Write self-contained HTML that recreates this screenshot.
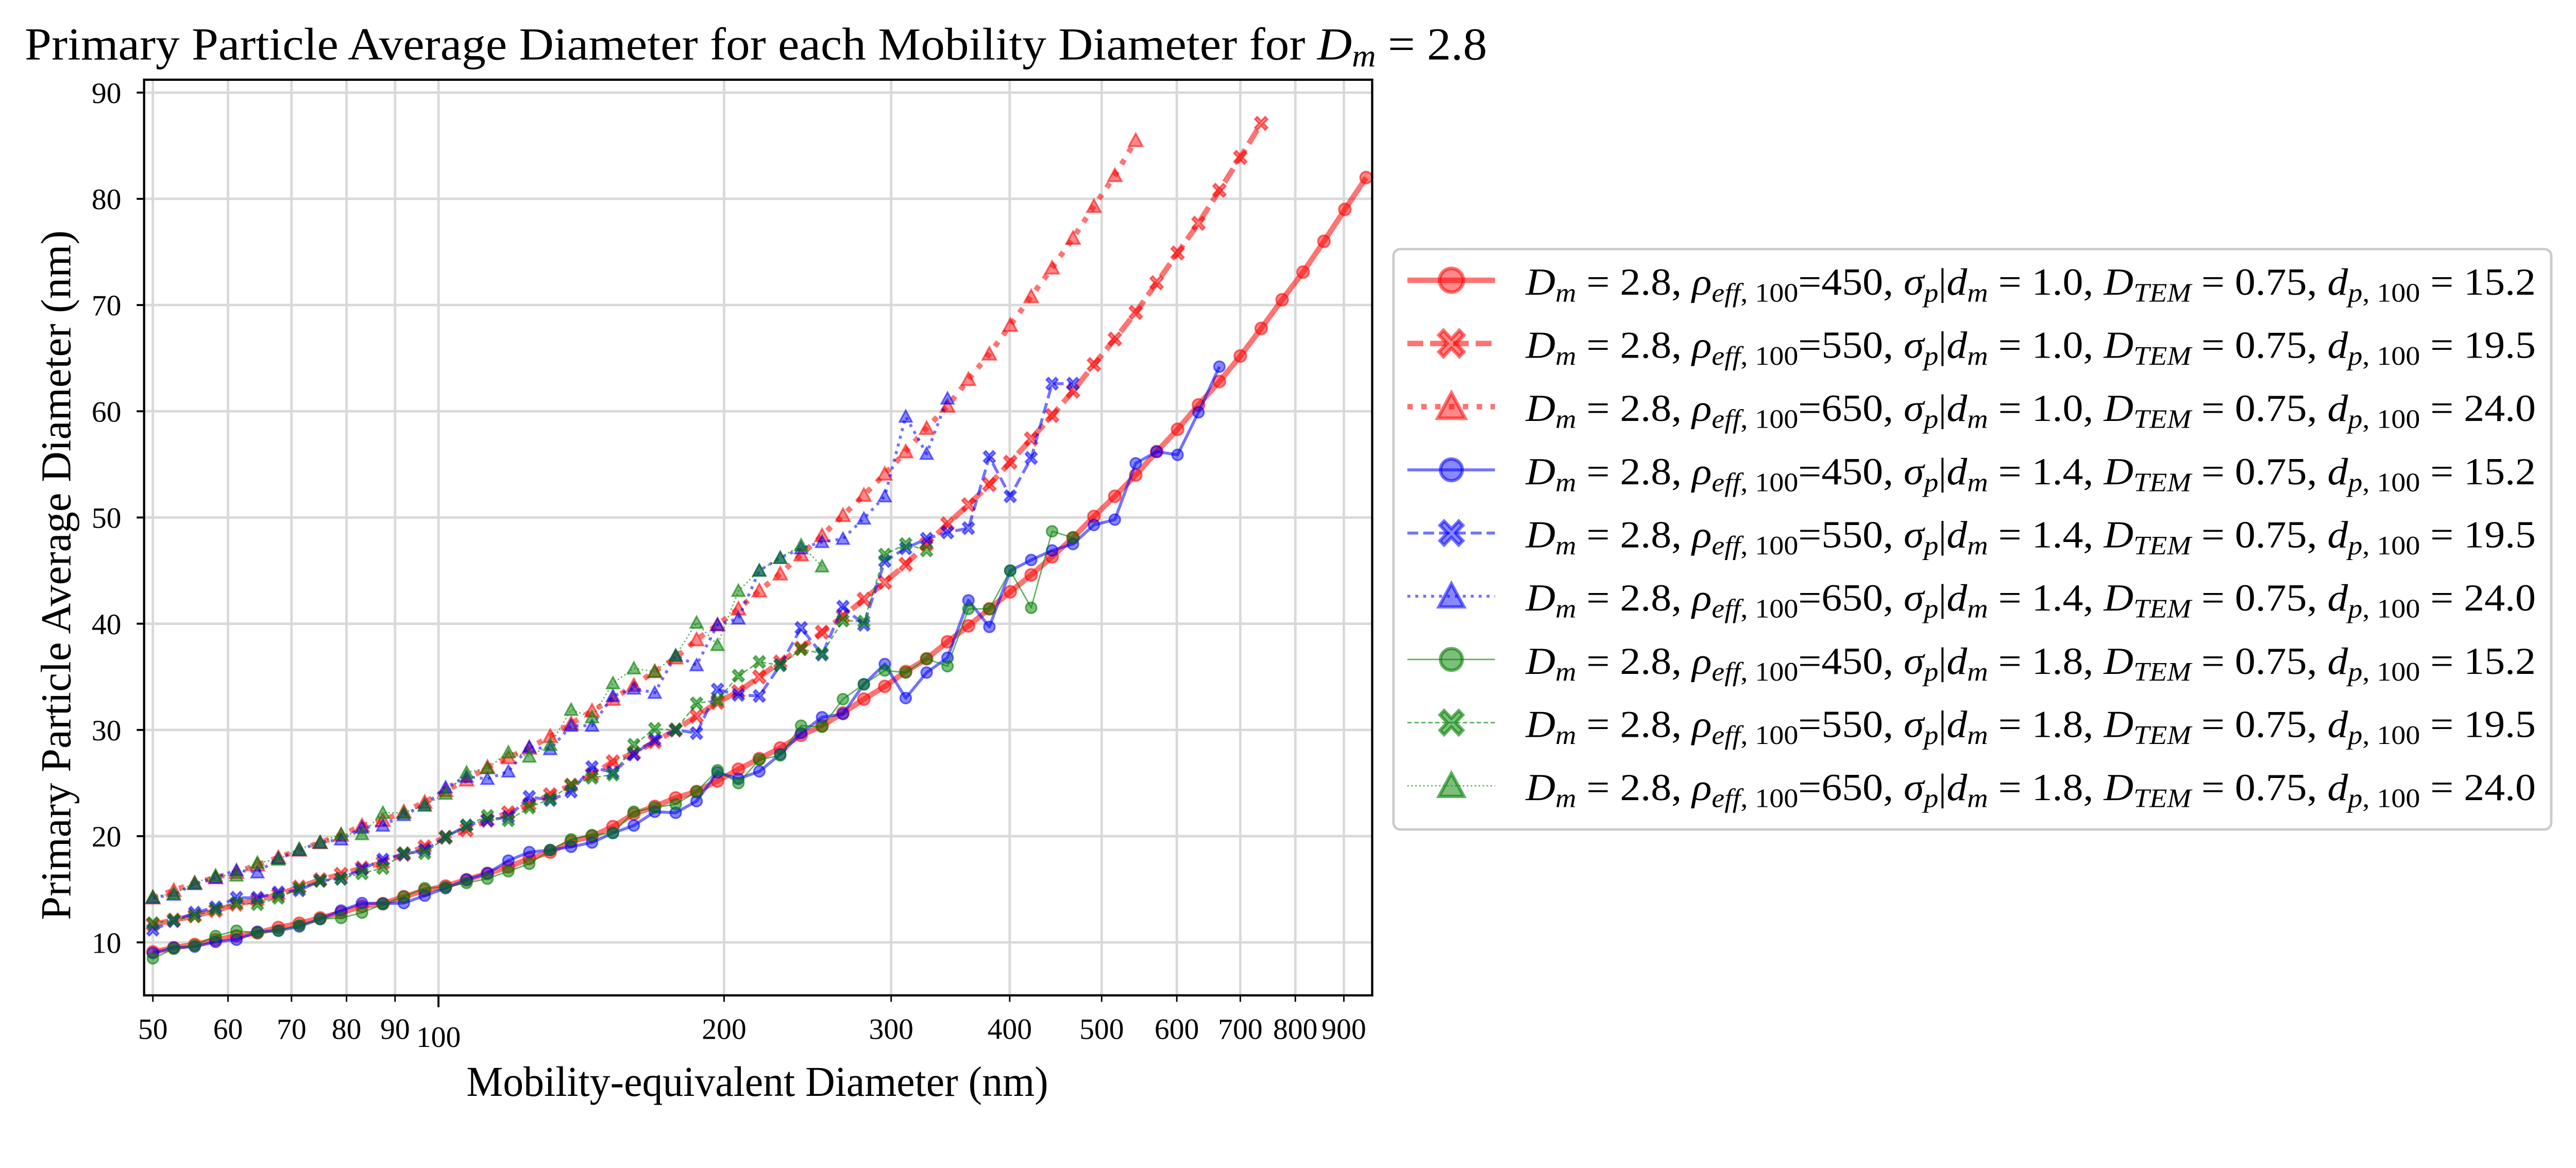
<!DOCTYPE html>
<html><head><meta charset="utf-8"><style>
html,body{margin:0;padding:0;background:#fff;overflow:hidden;}
svg{display:block;font-family:"Liberation Serif","DejaVu Serif",serif;overflow:hidden;width:100vw;height:calc(100vw * 0.435794);}
</style></head><body>
<svg id="chart" xmlns="http://www.w3.org/2000/svg" viewBox="0 0 5202 2267" preserveAspectRatio="none">
<rect x="0" y="0" width="5202" height="2267" fill="#fff"/>
<g id="grid"></g>
<g id="series"></g>
<rect x="291" y="161" width="2480" height="1849" fill="none" stroke="#000" stroke-width="4.5"/>
<g id="ticks"></g>
<text id="title" x="50" y="120" font-size="93">Primary Particle Average Diameter for each Mobility Diameter for <tspan font-style="italic">D</tspan><tspan font-style="italic" font-size="64" dy="14">m</tspan><tspan dy="-14"> = 2.8</tspan></text>
<text id="xlabel" x="942" y="2213" font-size="86">Mobility-equivalent Diameter (nm)</text>
<g transform="translate(142,1858) rotate(-90)"><text id="ylabel" x="0" y="0" font-size="86">Primary Particle Average Diameter (nm)</text></g>
<rect x="2814" y="503" width="2338" height="1172" rx="14" fill="#fff" fill-opacity="0.8" stroke="#cccccc" stroke-width="5"/>
<g id="legend"></g>
</svg>
<script>
const xValues = [50.00,52.60,55.34,58.22,61.25,64.44,67.80,71.33,75.04,78.95,83.06,87.38,91.93,96.71,101.75,107.05,112.62,118.48,124.65,131.14,137.97,145.15,152.71,160.66,169.02,177.82,187.08,196.82,207.07,217.85,229.19,241.12,253.67,266.88,280.77,295.39,310.77,326.95,343.97,361.88,380.72,400.54,421.39,443.33,466.41,490.69,516.24,543.11,571.39,601.14,632.43,665.36,700.00,736.44,774.78,815.12,857.55,902.20,950.00];
const redCircle = [9.1,9.5,9.8,10.25,10.6,10.9,11.4,11.8,12.3,12.8,13.4,13.65,14.3,14.9,15.3,15.9,16.5,17.1,17.9,18.5,19.5,20.0,20.9,22.1,22.8,23.6,24.2,25.2,26.3,27.3,28.3,29.5,30.4,31.6,32.9,34.1,35.5,36.7,38.3,39.8,41.4,43.0,44.6,46.3,48.1,50.1,52.0,54.0,56.2,58.3,60.6,62.8,65.2,67.8,70.5,73.1,76.0,79.0,82.0];
const redX = [11.7,12.1,12.5,13.0,13.6,14.0,14.5,15.2,15.9,16.4,17.0,17.5,18.3,19.0,19.9,20.6,21.5,22.2,23.0,23.9,24.8,25.8,27.0,27.8,28.9,30.0,31.3,32.6,33.6,35.0,36.4,37.7,39.2,40.7,42.3,43.9,45.6,47.5,49.4,51.2,53.1,55.2,57.4,59.6,61.9,64.4,66.8,69.3,72.1,74.9,77.7,80.8,83.9,87.1];
const redTri = [14.2,14.9,15.6,16.1,16.6,17.3,18.0,18.7,19.4,20.1,21.0,21.5,22.3,23.2,24.3,25.3,26.5,27.4,28.3,29.4,30.6,31.8,32.9,34.2,35.5,36.8,38.5,39.9,41.4,43.1,44.7,46.5,48.3,50.2,52.1,54.1,56.2,58.4,60.5,63.0,65.4,68.1,70.8,73.5,76.3,79.3,82.2,85.5];
const blueCircle = [9.0,9.5,9.6,10.05,10.25,11.0,11.1,11.5,12.2,13.0,13.7,13.65,13.7,14.4,15.1,15.9,16.5,17.7,18.5,18.7,19.0,19.4,20.3,21.0,22.3,22.2,23.3,26.0,25.4,26.1,27.7,29.7,31.2,31.5,34.3,36.2,33.0,35.4,36.8,42.2,39.7,45.0,46.0,46.9,47.5,49.3,49.8,55.1,56.2,55.9,59.9,64.2];
const blueX = [11.2,12.0,12.8,13.3,14.2,14.2,14.7,14.9,15.8,16.0,16.9,17.8,18.3,18.7,19.9,21.0,21.5,21.8,23.7,23.4,24.2,26.5,26.0,27.7,29.1,30.0,29.7,33.8,33.3,33.2,36.1,39.6,37.1,41.6,39.9,45.9,47.1,48.0,48.6,49.0,55.7,52.0,55.6,62.6,62.6];
const blueTri = [14.2,14.5,15.5,16.1,16.8,16.6,17.9,18.7,19.4,19.7,20.8,21.0,22.0,22.9,24.6,25.6,25.4,26.1,28.4,28.2,30.4,30.4,33.2,33.9,33.5,37.0,36.1,39.9,40.5,45.0,46.2,47.1,47.7,48.0,49.9,52.0,59.5,56.0,61.2];
const greenCircle = [8.5,9.4,9.7,10.6,11.1,10.9,11.1,11.6,12.2,12.3,12.8,13.6,14.3,15.1,15.2,15.6,16.0,16.7,17.4,18.7,19.7,20.1,20.3,22.3,22.7,23.0,24.2,26.2,25.0,27.2,27.6,30.4,30.3,32.9,34.3,35.6,35.4,36.7,36.0,41.4,41.4,45.0,41.5,48.7,48.1];
const greenX = [11.8,12.1,12.5,13.1,13.7,13.6,14.2,15.1,15.8,16.0,16.5,17.0,18.4,18.4,19.9,21.0,21.9,21.5,22.7,23.5,24.8,25.5,25.8,28.6,30.1,30.0,32.5,32.8,35.1,36.4,36.1,37.6,37.2,40.3,40.2,46.5,47.5,46.9];
const greenTri = [14.3,14.6,15.6,16.3,16.3,17.5,17.8,18.8,19.4,20.2,20.2,22.2,22.2,22.9,24.0,26.0,26.4,27.9,27.5,28.6,31.9,31.2,34.4,35.8,35.5,37.0,40.1,38.0,43.1,45.0,46.2,47.4,45.4];
const yTicks = [10,20,30,40,50,60,70,80,90];
const xMinorTicks = [50,60,70,80,90,200,300,400,500,600,700,800,900];
const xMajorTicks = [100];
const rhoLabels = ["450","550","650","450","550","650","450","550","650"];
const sigmaLabels = ["1.0","1.0","1.0","1.4","1.4","1.4","1.8","1.8","1.8"];
const dpLabels = ["15.2","19.5","24.0","15.2","19.5","24.0","15.2","19.5","24.0"];

const NS = "http://www.w3.org/2000/svg";
const X0 = 291, X1 = 2771, Y0 = 161, Y1 = 2010;
function xs(v){ return 308.7 + 1916 * Math.log10(v / 50); }
function ys(v){ return 1903 - (v - 10) * 21.45; }
function mk(tag, attrs, parent){ const e = document.createElementNS(NS, tag); for (const k in attrs) e.setAttribute(k, attrs[k]); parent.appendChild(e); return e; }
function fitWidth(el, x0, w){
  try {
    const bw = el.getBBox().width;
    if (bw > w * 1.01 || bw < w * 0.99) el.setAttribute('transform', `translate(${x0},0) scale(${w/bw},1) translate(${-x0},0)`);
  } catch (e) {}
}

const grid = document.getElementById('grid');
const ticks = document.getElementById('ticks');
yTicks.forEach(v => {
  const l = mk('line', {x1:X0, x2:X1, y1:ys(v), y2:ys(v), stroke:'#d9d9d9', 'stroke-width':5}, grid);
  
  
  const t = mk('line', {x1:X0-15, x2:X0, y1:ys(v), y2:ys(v), stroke:'#000', 'stroke-width':4}, ticks);
  
  
  const tx = mk('text', {x:245, y:ys(v)+21, 'font-size':60, 'text-anchor':'end'}, ticks);
  tx.textContent = v;
  
  
});
xMinorTicks.concat(xMajorTicks).forEach(v => {
  const major = xMajorTicks.includes(v);
  const l = mk('line', {x1:xs(v), x2:xs(v), y1:Y0, y2:Y1, stroke:'#d9d9d9', 'stroke-width':5}, grid);
  
  
  const t = mk('line', {x1:xs(v), x2:xs(v), y1:Y1, y2:Y1 + (major ? 24 : 13), stroke:'#000', 'stroke-width': major ? 4 : 3}, ticks);
  
  
  const tx = mk('text', {x:xs(v), y: major ? 2114 : 2098, 'font-size':60, 'text-anchor':'middle'}, ticks);
  tx.textContent = v;
  
  
});

const COLORS = {red:'#ff0000', blue:'#0000ff', green:'#008000'};
const series = [
  {name:'red-circle', data:redCircle, color:'red', marker:'o', lw:11, dash:'', alpha:0.55, ms:12},
  {name:'red-x', data:redX, color:'red', marker:'X', lw:11, dash:'32 14', alpha:0.55, ms:12},
  {name:'red-triangle', data:redTri, color:'red', marker:'^', lw:11, dash:'11 17', alpha:0.55, ms:12},
  {name:'blue-circle', data:blueCircle, color:'blue', marker:'o', lw:6, dash:'', alpha:0.55, ms:11},
  {name:'blue-x', data:blueX, color:'blue', marker:'X', lw:6, dash:'22 10', alpha:0.55, ms:11},
  {name:'blue-triangle', data:blueTri, color:'blue', marker:'^', lw:6, dash:'6 10', alpha:0.55, ms:11},
  {name:'green-circle', data:greenCircle, color:'green', marker:'o', lw:3, dash:'', alpha:0.6, ms:11},
  {name:'green-x', data:greenX, color:'green', marker:'X', lw:3, dash:'9 5', alpha:0.6, ms:11},
  {name:'green-triangle', data:greenTri, color:'green', marker:'^', lw:3, dash:'3 5', alpha:0.6, ms:11},
];

function drawMarker(g, type, cx, cy, r, col, alpha){
  let e;
  const st = {fill:col, 'fill-opacity':alpha*0.85, stroke:col, 'stroke-opacity':alpha, 'stroke-width':Math.max(3, r*0.3)};
  if (type === 'o') {
    e = mk('circle', Object.assign({cx:cx, cy:cy, r:r}, st), g);
  } else if (type === '^') {
    const h = r*1.15;
    e = mk('polygon', Object.assign({points:`${cx},${cy-h} ${cx+h},${cy+h*0.85} ${cx-h},${cy+h*0.85}`}, st), g);
  } else {
    const a = r*1.05, w = r*0.38;
    const pts = [[0,-w],[a-w,-a],[a,-a+w],[w,0],[a,a-w],[a-w,a],[0,w],[-a+w,a],[-a,a-w],[-w,0],[-a,-a+w],[-a+w,-a]];
    e = mk('polygon', Object.assign({points: pts.map(p => (cx+p[0])+','+(cy+p[1]*1.05)).join(' ')}, st), g);
  }
  return e;
}

const sg = document.getElementById('series');
series.forEach(s => {
  const g = mk('g', {}, sg);
  
  
  const col = COLORS[s.color];
  const pts = s.data.map((v, i) => xs(xValues[i]).toFixed(1) + ',' + ys(v).toFixed(1)).join(' ');
  const pl = mk('polyline', {points:pts, fill:'none', stroke:col, 'stroke-opacity':s.alpha, 'stroke-width':s.lw, 'stroke-linejoin':'round'}, g);
  if (s.dash) pl.setAttribute('stroke-dasharray', s.dash);
  
  
  s.data.forEach((v, i) => {
    const m = drawMarker(g, s.marker, xs(xValues[i]), ys(v), s.ms, col, s.alpha);
    
    
  });
});

const lg = document.getElementById('legend');
series.forEach((s, i) => {
  const cy = 566 + i * 127.6;
  const col = COLORS[s.color];
  const g = mk('g', {}, lg);
  
  
  const l = mk('line', {x1:2842, x2:3019, y1:cy, y2:cy, stroke:col, 'stroke-opacity':s.alpha, 'stroke-width':s.lw}, g);
  if (s.dash) l.setAttribute('stroke-dasharray', s.dash);
  drawMarker(g, s.marker, 2931, cy, s.ms*2, col, s.alpha);
  const t = mk('text', {x:3081, y:cy+29, 'font-size':77}, g);
  
  
  t.innerHTML = `<tspan font-style="italic">D</tspan><tspan font-style="italic" font-size="54" dy="14">m</tspan><tspan dy="-14"> = 2.8, </tspan><tspan font-style="italic">ρ</tspan><tspan font-size="54" dy="14"><tspan font-style="italic">eff</tspan>, 100</tspan><tspan dy="-14">=${rhoLabels[i]}, </tspan><tspan font-style="italic">σ</tspan><tspan font-style="italic" font-size="54" dy="14">p</tspan><tspan dy="-14">|</tspan><tspan font-style="italic">d</tspan><tspan font-style="italic" font-size="54" dy="14">m</tspan><tspan dy="-14"> = ${sigmaLabels[i]}, </tspan><tspan font-style="italic">D</tspan><tspan font-style="italic" font-size="54" dy="14">TEM</tspan><tspan dy="-14"> = 0.75, </tspan><tspan font-style="italic">d</tspan><tspan font-size="54" dy="14"><tspan font-style="italic">p</tspan>, 100</tspan><tspan dy="-14"> = ${dpLabels[i]}</tspan>`;
  fitWidth(t, 3081, 2041);
});
fitWidth(document.getElementById('title'), 50, 2953);
fitWidth(document.getElementById('xlabel'), 942, 1175);
fitWidth(document.getElementById('ylabel'), 0, 1393);
</script>
</body></html>
